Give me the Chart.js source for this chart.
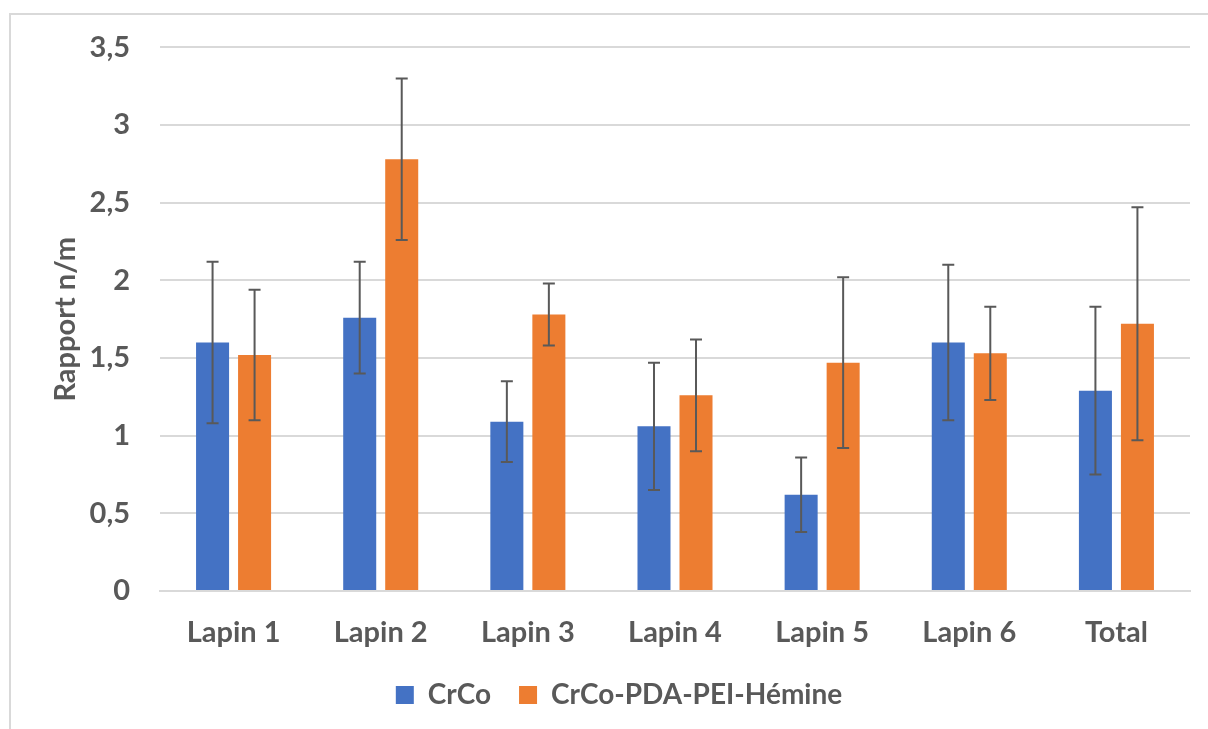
<!DOCTYPE html>
<html><head><meta charset="utf-8">
<script src="https://cdn.jsdelivr.net/npm/chart.js@4.4.1/dist/chart.umd.min.js"></script>
<style>
html,body{margin:0;padding:0;background:#fff;}
#wrap{position:absolute;left:0;top:0;width:1208px;height:729px;}
</style></head><body>
<div id="wrap"><canvas id="c" width="1208" height="729"></canvas></div>
<script>
const categories = ['Lapin 1','Lapin 2','Lapin 3','Lapin 4','Lapin 5','Lapin 6','Total'];
const crcoValues = [1.60, 1.76, 1.09, 1.06, 0.62, 1.60, 1.29];
const crcoErrors = [0.52, 0.36, 0.26, 0.41, 0.24, 0.50, 0.54];
const hemineValues = [1.52, 2.78, 1.78, 1.26, 1.47, 1.53, 1.72];
const hemineErrors = [0.42, 0.52, 0.20, 0.36, 0.55, 0.30, 0.75];
const seriesNames = ['CrCo', 'CrCo-PDA-PEI-Hémine'];
const yTicks = [0, 0.5, 1, 1.5, 2, 2.5, 3, 3.5];

const FONT = 'Lato';
const TXT = '#595959';
const FS = 29;

const borderPlugin = {
  id: 'frame',
  beforeDraw(chart) {
    const ctx = chart.ctx;
    ctx.save();
    ctx.fillStyle = '#fff';
    ctx.fillRect(0, 0, chart.width, chart.height);
    ctx.strokeStyle = '#d9d9d9';
    ctx.lineWidth = 2;
    ctx.beginPath();
    ctx.moveTo(10, 729);
    ctx.lineTo(10, 14);
    ctx.lineTo(1208, 14);
    ctx.stroke();
    ctx.restore();
  }
};

const errorPlugin = {
  id: 'errbars',
  afterDatasetsDraw(chart) {
    const ctx = chart.ctx;
    const y = chart.scales.y;
    ctx.save();
    ctx.strokeStyle = '#595959';
    ctx.lineWidth = 2;
    chart.data.datasets.forEach((ds, di) => {
      const meta = chart.getDatasetMeta(di);
      meta.data.forEach((bar, i) => {
        const v = ds.data[i], e = ds.errors[i];
        const x = bar.x;
        const yt = y.getPixelForValue(v + e);
        const yb = y.getPixelForValue(v - e);
        ctx.beginPath();
        ctx.moveTo(x, yt); ctx.lineTo(x, yb);
        ctx.moveTo(x - 6, yt); ctx.lineTo(x + 6, yt);
        ctx.moveTo(x - 6, yb); ctx.lineTo(x + 6, yb);
        ctx.stroke();
      });
    });
    ctx.restore();
  }
};

new Chart(document.getElementById('c'), {
  type: 'bar',
  data: {
    labels: categories,
    datasets: [
      { label: seriesNames[0], data: crcoValues, errors: crcoErrors, backgroundColor: '#4472C4',
        categoryPercentage: 0.571, barPercentage: 0.786 },
      { label: seriesNames[1], data: hemineValues, errors: hemineErrors, backgroundColor: '#ED7D31',
        categoryPercentage: 0.571, barPercentage: 0.786 }
    ]
  },
  options: {
    responsive: false,
    animation: false,
    devicePixelRatio: 1,
    layout: { padding: { left: 48, right: 18, top: 46, bottom: 10 } },
    plugins: {
      legend: {
        position: 'bottom',
        labels: {
          boxWidth: 18, boxHeight: 18, padding: 28,
          color: TXT, font: { family: FONT, size: 28, weight: 'bold' }
        }
      },
      tooltip: { enabled: false }
    },
    scales: {
      x: {
        afterFit(s) { s.height = 62; },
        grid: { display: false, drawTicks: false },
        border: { display: true, color: '#d9d9d9', width: 2 },
        ticks: { color: TXT, padding: 24, font: { family: FONT, size: FS, weight: 'bold' } }
      },
      y: {
        min: 0, max: 3.5,
        afterBuildTicks(s) { s.ticks = yTicks.map(v => ({ value: v })); },
        afterFit(s) { s.width = 112; },
        grid: { color: '#d9d9d9', lineWidth: 2, drawTicks: false },
        border: { display: false },
        ticks: {
          color: TXT, padding: 30, font: { family: FONT, size: FS, weight: 'bold' },
          callback: v => String(v).replace('.', ',')
        },
        title: {
          display: true, text: 'Rapport n/m', color: TXT,
          font: { family: FONT, size: FS, weight: 'bold' },
          padding: { top: 0, bottom: 0 }
        }
      }
    }
  },
  plugins: [borderPlugin, errorPlugin]
});
</script>
</body></html>
